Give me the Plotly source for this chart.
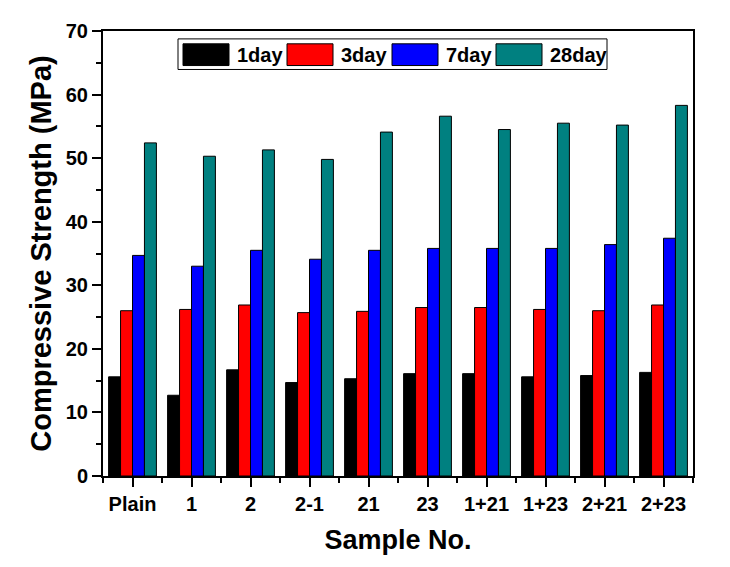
import plotly.graph_objects as go

samples = ["Plain", "1", "2", "2-1", "21", "23", "1+21", "1+23", "2+21", "2+23"]
day1 = [15.6, 12.7, 16.7, 14.7, 15.3, 16.1, 16.1, 15.6, 15.8, 16.3]
day3 = [26.0, 26.2, 26.9, 25.7, 25.9, 26.5, 26.5, 26.2, 26.0, 26.9]
day7 = [34.7, 33.0, 35.5, 34.1, 35.5, 35.8, 35.8, 35.8, 36.4, 37.4]
day28 = [52.4, 50.3, 51.3, 49.8, 54.1, 56.6, 54.5, 55.5, 55.2, 58.3]
series_names = ["1day", "3day", "7day", "28day"]
colors = ["#000000", "#FF0000", "#0000FF", "#008080"]

FONT = "Liberation Sans"
x_idx = list(range(len(samples)))

fig = go.Figure()
for name, vals, col in zip(series_names, [day1, day3, day7, day28], colors):
    fig.add_trace(go.Bar(
        x=x_idx, y=vals, name=name,
        marker=dict(color=col, line=dict(color="black", width=1)),
    ))

# page has an 8px body margin; target plot area in screenshot pixels
OFF = 8
L, R, T, B = 103, 693, 25, 476
W, H = 730, 567
def px(x):
    return (x - L) / (R - L)
def py(y):
    return (B - y) / (B - T)

shapes = []
annotations = []
shapes.append(dict(type="rect", xref="paper", yref="paper",
                   x0=px(178), x1=px(607), y0=py(64), y1=py(33),
                   line=dict(color="black", width=1), fillcolor="white", layer="above"))
sym_x = [183, 287, 392, 496]
for sx, name, col in zip(sym_x, series_names, colors):
    shapes.append(dict(type="rect", xref="paper", yref="paper",
                       x0=px(sx), x1=px(sx + 46), y0=py(60), y1=py(38),
                       line=dict(color="black", width=1), fillcolor=col, layer="above"))
    annotations.append(dict(xref="paper", yref="paper", x=px(sx + 52), y=py(49),
                            text="<b>%s</b>" % name, showarrow=False,
                            xanchor="left", yanchor="middle",
                            font=dict(family=FONT, size=20, color="black")))

fig.update_layout(
    width=W, height=H,
    margin=dict(l=L - OFF, r=W - (R - OFF), t=T - OFF, b=H - (B - OFF)),
    paper_bgcolor="white", plot_bgcolor="white",
    barmode="group", bargap=0.19, bargroupgap=0,
    showlegend=False,
    shapes=shapes, annotations=annotations,
    font=dict(family=FONT, color="black"),
)
fig.update_xaxes(
    range=[-0.5, 9.5], tickmode="array", tickvals=x_idx,
    ticktext=["<b>%s</b>" % s for s in samples],
    tickfont=dict(family=FONT, size=20, color="black"),
    ticks="outside", ticklen=9, tickwidth=2, tickcolor="black",
    minor=dict(tick0=0.5, dtick=1, ticks="outside", ticklen=5, tickwidth=2, tickcolor="black"),
    showline=True, linecolor="black", linewidth=2, mirror=True,
    showgrid=False, zeroline=False,
    title=dict(text="<b>Sample No.</b>", font=dict(family=FONT, size=27, color="black"), standoff=16),
)
fig.update_yaxes(
    range=[0, 70], dtick=10, tick0=0,
    tickfont=dict(family=FONT, size=20, color="black"),
    tickprefix="<b>", ticksuffix="</b>",
    ticks="outside", ticklen=9, tickwidth=2, tickcolor="black",
    minor=dict(dtick=5, ticks="outside", ticklen=5, tickwidth=2, tickcolor="black"),
    showline=True, linecolor="black", linewidth=2, mirror=True,
    showgrid=False, zeroline=False,
    title=dict(text="<b>Compressive Strength (MPa)</b>", font=dict(family=FONT, size=29, color="black"), standoff=6),
)

fig.write_html("out.html")
